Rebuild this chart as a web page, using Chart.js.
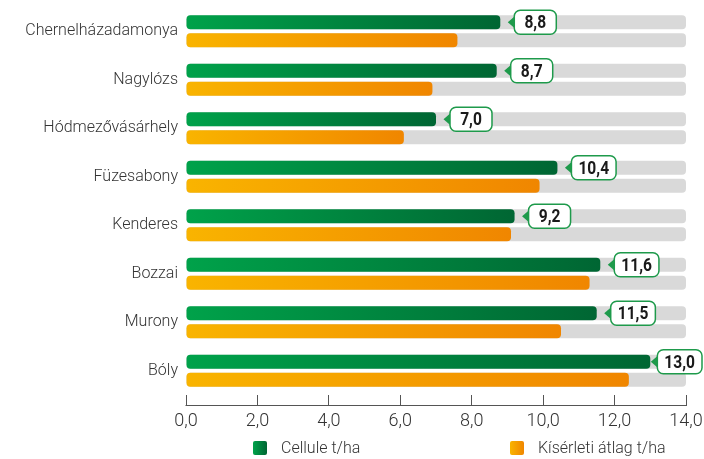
<!DOCTYPE html>
<html><head><meta charset="utf-8">
<script src="https://cdn.jsdelivr.net/npm/chart.js"></script>
<style>html,body{margin:0;padding:0;background:#fff;}</style>
</head><body>
<canvas id="c" width="704" height="459"></canvas>
<script>
const categories = ['Chernelházadamonya','Nagylózs','Hódmezővásárhely','Füzesabony','Kenderes','Bozzai','Murony','Bóly'];
const celluleValues = [8.8, 8.7, 7.0, 10.4, 9.2, 11.6, 11.5, 13.0];
const atlagValues = [7.6, 6.9, 6.1, 9.9, 9.1, 11.3, 10.5, 12.4];
const seriesNames = ['Cellule t/ha', 'Kísérleti átlag t/ha'];
const axisMin = 0;
const axisMax = 14;
const axisStep = 2;
const trackValues = categories.map(() => axisMax);

const FONT = "Roboto, 'DejaVu Sans Condensed', sans-serif";
const greenStops = ['#00a24a', '#006633'];
const orangeStops = ['#f9b400', '#f08600'];
const trackColor = '#d9d9d9';

function gradFill(stops) {
  return (ctx) => {
    const chart = ctx.chart;
    const area = chart.chartArea;
    if (!area || ctx.raw === undefined) return stops[0];
    const xs = chart.scales.x;
    const x0 = xs.getPixelForValue(axisMin);
    const x1 = xs.getPixelForValue(ctx.raw);
    const g = chart.ctx.createLinearGradient(x0, 0, Math.max(x1, x0 + 1), 0);
    g.addColorStop(0, stops[0]);
    g.addColorStop(1, stops[1]);
    return g;
  };
}

const fmt = v => Number(v).toFixed(1).replace('.', ',');

const axisLinePlugin = {
  id: 'axisLine',
  afterDraw(chart) {
    const c = chart.ctx, a = chart.chartArea;
    const y = a.bottom + 10.5;
    c.save();
    c.strokeStyle = '#555';
    c.lineWidth = 1;
    c.beginPath();
    c.moveTo(a.left - 0.5, y);
    c.lineTo(a.right + 0.5, y);
    c.stroke();
    c.restore();
  }
};

const SQUEEZE = 0.82;
const calloutPlugin = {
  id: 'callout',
  afterDatasetsDraw(chart) {
    const meta = chart.getDatasetMeta(0);
    const c = chart.ctx;
    c.save();
    c.font = "bold 19px " + FONT;
    meta.data.forEach((el, i) => {
      const txt = fmt(celluleValues[i]);
      const x = el.x, y = el.y;
      const tw = c.measureText(txt).width * SQUEEZE;
      const w = Math.max(tw + 14, 42);
      const h = 24;
      const left = Math.min(x + 14, chart.width - 2 - w);
      c.fillStyle = '#1e9a4b';
      c.beginPath();
      c.moveTo(left - 6.5, y);
      c.lineTo(left + 1, y - 6.5);
      c.lineTo(left + 1, y + 6.5);
      c.closePath();
      c.fill();
      c.beginPath();
      c.roundRect(left, y - h / 2, w, h, 6);
      c.fillStyle = '#fff';
      c.fill();
      c.lineWidth = 1.5;
      c.strokeStyle = '#1e9a4b';
      c.stroke();
      c.save();
      c.translate(left + w / 2, y + 1);
      c.scale(SQUEEZE, 1);
      c.textAlign = 'center';
      c.textBaseline = 'middle';
      c.fillStyle = '#1a1a1a';
      c.fillText(txt, 0, 0);
      c.restore();
    });
    c.restore();
  }
};

const legendPlugin = {
  id: 'customLegend',
  afterDraw(chart) {
    const c = chart.ctx;
    const items = [
      { x: 253, color: greenStops, text: seriesNames[0] },
      { x: 510, color: orangeStops, text: seriesNames[1] }
    ];
    const y = 448;
    c.save();
    c.font = "300 16px " + FONT;
    c.textBaseline = 'middle';
    c.textAlign = 'left';
    items.forEach(it => {
      const g = c.createLinearGradient(it.x, 0, it.x + 14, 0);
      g.addColorStop(0, it.color[0]);
      g.addColorStop(1, it.color[1]);
      c.fillStyle = g;
      c.beginPath();
      c.roundRect(it.x, y - 7, 14, 14, 2);
      c.fill();
      c.fillStyle = '#333';
      c.fillText(it.text, it.x + 28, y + 1);
    });
    c.restore();
  }
};

const barCommon = {
  borderRadius: 4,
  borderSkipped: false,
  categoryPercentage: 0.741,
  barPercentage: 0.778
};

new Chart(document.getElementById('c'), {
  type: 'bar',
  data: {
    labels: categories,
    datasets: [
      Object.assign({ label: seriesNames[0], data: celluleValues, backgroundColor: gradFill(greenStops), stack: 'a', order: 0 }, barCommon),
      Object.assign({ label: seriesNames[1], data: atlagValues, backgroundColor: gradFill(orangeStops), stack: 'b', order: 0 }, barCommon),
      Object.assign({ label: 'track1', data: trackValues, backgroundColor: trackColor, stack: 'a', order: 1 }, barCommon),
      Object.assign({ label: 'track2', data: trackValues, backgroundColor: trackColor, stack: 'b', order: 1 }, barCommon)
    ]
  },
  options: {
    indexAxis: 'y',
    responsive: false,
    animation: false,
    devicePixelRatio: 1,
    layout: { padding: { top: 7, bottom: 27, left: 0, right: 18 } },
    plugins: { legend: { display: false }, tooltip: { enabled: false } },
    scales: {
      x: {
        type: 'linear',
        stacked: false,
        min: axisMin, max: axisMax,
        ticks: { stepSize: axisStep, callback: v => fmt(v), color: '#333', font: { family: FONT, size: 18, weight: 300 }, padding: 5 },
        grid: { display: true, drawOnChartArea: false, drawTicks: true, tickLength: 11, color: '#555', lineWidth: 1 },
        border: { display: false },
        afterFit: s => { s.height = 37; s.paddingLeft = 0; s.paddingRight = 0; }
      },
      y: {
        type: 'category',
        offset: true,
        grid: { display: false, drawTicks: false },
        border: { display: false },
        ticks: { color: '#333', font: { family: FONT, size: 16, weight: 300 }, padding: 8 },
        afterFit: s => { s.width = 186; s.paddingTop = 0; s.paddingBottom = 0; }
      }
    }
  },
  plugins: [axisLinePlugin, calloutPlugin, legendPlugin]
});
</script>
</body></html>
